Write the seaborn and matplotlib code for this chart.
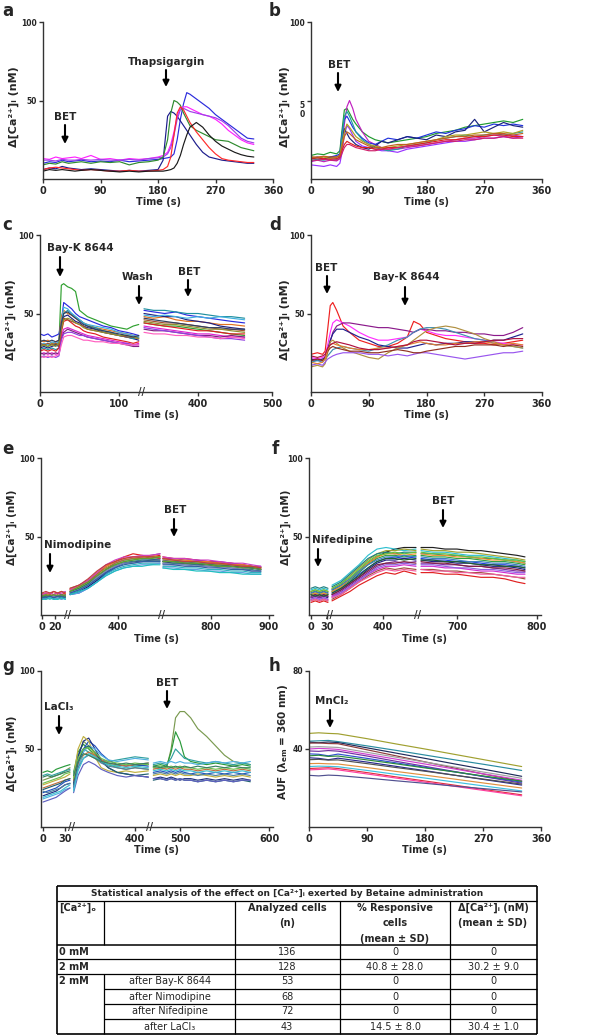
import numpy as np
import pandas as pd
import matplotlib
matplotlib.use('Agg')
import matplotlib.pyplot as plt
import seaborn as sns

W, H = 593, 1035

# ---------------- panel a (time in s, nM) ----------------
a_t = [0, 10, 20, 30, 40, 50, 60, 75, 90, 105, 120, 135, 150, 165, 180, 188, 195, 200, 205, 210,
       215, 220, 225, 230, 240, 250, 260, 270, 280, 290, 300, 310, 320, 330]
a_vals = [
    [10, 11, 10.5, 12, 11, 11.5, 12, 11, 11.5, 11, 12, 11, 11.5, 12, 12.5, 13, 13.5, 14, 16, 25, 38, 48, 55, 54, 51, 48, 45, 41, 38, 35, 32, 29, 26, 25.5],
    [6, 7, 6.5, 8, 7, 6.5, 6, 6.5, 6, 5.5, 5, 5.5, 5, 5.5, 6, 12, 40, 43, 42, 40, 37, 34, 31, 28, 22, 17, 14, 13, 12, 11.5, 11, 10.5, 10, 10],
    [13, 12.5, 14, 13, 13.5, 14, 13, 15, 12.5, 13, 12, 13, 12.5, 13, 14, 15, 17, 22, 30, 40, 45, 46, 46, 45, 43, 41, 40, 38, 35, 31, 28, 25, 23, 22],
    [12, 12, 11.5, 12.5, 12, 12, 12.5, 12, 12.5, 12, 12, 12.5, 12, 13, 13.5, 14, 16, 20, 28, 38, 44, 45, 44, 43, 42, 41, 40, 39, 37, 34, 30, 26, 24, 23],
    [9, 10, 9.5, 11, 10, 10.5, 11, 10, 11, 10.5, 11, 9, 10.5, 11, 12, 14, 25, 42, 50, 49, 47, 42, 38, 34, 31, 29, 27, 25, 24.5, 24, 22, 20, 19, 18],
    [6, 7, 7.5, 7, 6.5, 6, 5.5, 6, 5.5, 5, 5, 5.5, 5, 5, 5.5, 6, 8, 14, 28, 42, 46, 44, 40, 36, 30, 25, 20, 16, 13, 12, 11.5, 11, 10.5, 10.5],
    [5, 6, 5.5, 6, 5.5, 5, 5.5, 6, 5.5, 5, 4.5, 5, 4.5, 5, 5, 5, 5.5, 6, 7, 10, 15, 22, 28, 33, 36, 33, 28, 24, 21, 19, 17, 15.5, 14.5, 14],
]
a_colors = ['#2b2bdc', '#1c1c8c', '#ff22ff', '#a040e8', '#2e8b2e', '#ff2a2a', '#1a1a1a']

# ---------------- panel b ----------------
b_t = [0, 10, 20, 30, 40, 45, 48, 52, 56, 60, 65, 70, 80, 90, 100, 110, 120, 135, 150, 165,
       180, 195, 210, 225, 240, 255, 270, 285, 300, 315, 330]
b_vals = [
    [15, 16, 15.5, 17, 16, 18, 30, 44, 45, 42, 38, 35, 30, 27, 25, 24, 23, 24, 25, 26, 27, 29, 30, 31, 33, 34, 35, 36, 37, 36, 38],
    [11, 12, 11, 12, 11.5, 13, 20, 35, 46, 50, 45, 38, 30, 24, 22, 20, 19, 19, 20, 21, 22, 23, 24, 25, 26, 26, 27, 28, 27, 28, 27],
    [9, 8.5, 8, 9, 8, 10, 16, 28, 34, 32, 28, 24, 21, 20, 19, 18, 18, 17, 19, 20, 21, 22, 23, 24, 24, 25, 26, 26, 27, 26, 27],
    [13, 14, 13, 14, 15, 16, 28, 38, 40, 37, 33, 30, 26, 23, 22, 24, 26, 25, 27, 26, 28, 30, 29, 31, 32, 34, 33, 35, 34, 35, 34],
    [13, 13.5, 13, 14, 14, 15, 24, 32, 29, 26, 24, 22, 20, 19, 21, 24, 23, 25, 27, 26, 25, 28, 27, 30, 31, 38, 30, 33, 36, 34, 33],
    [12, 12.5, 12, 13, 12.5, 14, 26, 40, 43, 40, 35, 30, 25, 22, 20, 19, 18, 19, 21, 22, 23, 25, 26, 27, 28, 27, 28, 29, 28, 29, 30],
    [14, 13.5, 14, 13, 14, 15, 22, 30, 35, 33, 30, 27, 24, 22, 21, 20, 20, 21, 22, 23, 24, 25, 27, 28, 28, 29, 30, 29, 30, 29, 31],
    [13, 13.5, 13, 12.5, 13, 14, 18, 22, 24, 23, 22, 21, 20, 20, 19, 19, 20, 20, 21, 22, 23, 24, 25, 25, 26, 27, 27, 28, 28, 27, 27],
    [12, 12, 12.5, 12, 12, 13, 16, 20, 22, 22, 21, 20, 19, 18, 18, 19, 19, 20, 21, 21, 22, 23, 24, 24, 25, 25, 26, 26, 27, 26, 26],
    [14, 14, 14.5, 14, 14, 15, 20, 27, 30, 29, 27, 25, 23, 21, 20, 20, 21, 22, 22, 23, 24, 25, 26, 27, 27, 28, 28, 29, 29, 28, 29],
]
b_colors = ['#1f9a2f', '#c020c0', '#9933ff', '#2233dd', '#1a237e', '#20a0a0', '#b0a020', '#e02020', '#d0206a', '#c06020']

# ---------------- panel c (broken axis) ----------------
c_t1 = [0, 5, 10, 15, 20, 24, 27, 30, 35, 40, 45, 50, 55, 60, 70, 80, 90, 100, 110, 118, 125]
c_t2 = [327, 340, 355, 370, 385, 400, 415, 430, 445, 463]
c_s1 = [
    [29, 30, 29, 31, 30, 31, 68, 69, 67, 66, 64, 52, 50, 48, 46, 44, 42, 41, 40, 42, 43],
    [37, 36, 37, 35, 36, 37, 45, 57, 55, 53, 50, 48, 47, 46, 44, 42, 41, 39, 38, 37, 36],
    [33, 32, 33, 31, 32, 33, 48, 52, 50, 49, 47, 46, 44, 43, 41, 40, 39, 38, 37, 36, 35],
    [28, 29, 28, 29, 30, 29, 40, 48, 49, 47, 45, 44, 42, 41, 40, 38, 37, 36, 35, 34, 33],
    [27, 28, 27, 28, 27, 28, 42, 50, 52, 50, 48, 46, 44, 42, 41, 39, 38, 36, 35, 34, 35],
    [30, 31, 30, 32, 31, 32, 44, 54, 53, 50, 48, 46, 44, 43, 42, 41, 40, 38, 37, 36, 35],
    [24, 25, 24, 25, 24, 25, 36, 40, 41, 40, 39, 38, 37, 36, 35, 34, 33, 32, 31, 30, 31],
    [25, 24, 25, 24, 25, 24, 34, 38, 40, 39, 38, 37, 36, 35, 34, 33, 32, 31, 30, 29, 29],
    [26, 27, 26, 27, 26, 28, 38, 45, 46, 44, 42, 41, 39, 38, 37, 35, 34, 33, 32, 31, 32],
    [22, 23, 22, 23, 22, 23, 33, 37, 38, 38, 37, 36, 36, 35, 34, 33, 32, 31, 31, 30, 30],
    [31, 30, 31, 30, 31, 30, 42, 47, 46, 45, 44, 43, 42, 40, 39, 38, 37, 36, 35, 35, 34],
    [29, 30, 29, 30, 29, 31, 40, 46, 47, 46, 44, 43, 41, 40, 39, 38, 37, 36, 36, 35, 34],
    [32, 33, 32, 33, 32, 33, 44, 50, 51, 49, 47, 45, 43, 42, 40, 39, 38, 37, 36, 35, 36],
    [23, 22, 23, 22, 23, 24, 30, 35, 36, 36, 35, 34, 33, 33, 32, 32, 31, 31, 30, 30, 30],
]
c_s2 = [
    [44, 43, 42, 42, 41, 40, 39, 38, 37, 36],
    [52, 51, 50, 51, 49, 48, 47, 46, 45, 44],
    [48, 47, 48, 46, 45, 45, 44, 43, 43, 42],
    [50, 49, 48, 48, 46, 45, 44, 42, 41, 40],
    [53, 52, 52, 51, 50, 50, 49, 48, 48, 47],
    [49, 48, 49, 48, 47, 48, 47, 48, 47, 46],
    [42, 41, 40, 39, 38, 37, 37, 36, 35, 35],
    [40, 39, 39, 38, 37, 36, 36, 35, 36, 35],
    [44, 43, 42, 41, 40, 39, 39, 38, 37, 37],
    [41, 40, 39, 38, 37, 36, 35, 34, 34, 33],
    [46, 45, 44, 44, 43, 42, 41, 40, 40, 39],
    [45, 44, 43, 43, 42, 41, 40, 40, 39, 38],
    [47, 46, 45, 44, 43, 42, 41, 41, 40, 40],
    [38, 37, 37, 36, 36, 35, 35, 34, 35, 34],
]
c_colors = ['#2fa02f', '#2a2ae0', '#e07020', '#202080', '#2090a0', '#40b0e0', '#e020d0',
            '#802080', '#e02020', '#9040e0', '#a05030', '#909030', '#304060', '#ff60c0']

# ---------------- panel d ----------------
d_t = [0, 10, 18, 22, 26, 30, 34, 40, 50, 60, 75, 90, 105, 120, 135, 150, 160, 170, 180, 195,
       210, 225, 240, 255, 270, 285, 300, 315, 330]
d_vals = [
    [24, 25, 24, 26, 40, 55, 57, 52, 42, 38, 33, 31, 29, 29, 31, 35, 45, 43, 38, 36, 34, 33, 32, 31, 31, 30, 31, 32, 33],
    [22, 21, 22, 23, 30, 38, 44, 46, 44, 42, 38, 35, 33, 33, 34, 35, 38, 40, 39, 37, 36, 36, 35, 34, 33, 32, 31, 30, 30],
    [20, 21, 20, 22, 26, 32, 38, 42, 44, 44, 43, 42, 41, 41, 40, 39, 38, 40, 40, 39, 39, 38, 38, 37, 37, 36, 36, 38, 41],
    [21, 20, 21, 22, 27, 33, 37, 40, 40, 38, 35, 33, 30, 29, 28, 28, 29, 30, 31, 30, 31, 31, 32, 32, 32, 33, 33, 35, 37],
    [19, 20, 19, 21, 23, 25, 27, 28, 29, 28, 27, 26, 28, 30, 33, 35, 38, 40, 41, 41, 40, 38, 36, 34, 33, 31, 30, 29, 28],
    [16, 17, 16, 18, 25, 32, 33, 31, 28, 26, 24, 22, 21, 25, 28, 30, 33, 36, 39, 41, 42, 41, 39, 37, 34, 32, 30, 29, 28],
    [17, 18, 17, 19, 21, 22, 23, 24, 25, 25, 25, 24, 24, 23, 24, 23, 24, 25, 25, 24, 23, 22, 21, 22, 23, 24, 25, 25, 26],
    [20, 21, 20, 22, 26, 28, 29, 28, 27, 26, 26, 25, 25, 26, 27, 26, 25, 25, 26, 27, 28, 29, 29, 30, 30, 30, 29, 30, 29],
    [19, 18, 19, 21, 27, 30, 31, 30, 29, 28, 27, 27, 28, 28, 29, 30, 31, 32, 31, 30, 30, 31, 31, 32, 32, 31, 30, 31, 30],
    [23, 22, 23, 24, 28, 30, 31, 32, 31, 30, 28, 27, 27, 28, 29, 30, 32, 33, 33, 32, 31, 30, 31, 31, 32, 33, 33, 34, 34],
]
d_colors = ['#ee2020', '#ff30ff', '#8b1a8b', '#202090', '#4090b0', '#b09040', '#9955ee', '#903020', '#e08030', '#b01040']

# ---------------- panel e (broken axis, three pieces) ----------------
e_t1 = [0, 6, 12, 18, 24, 30, 36]
e_t2 = [320, 335, 350, 365, 380, 395, 410, 425, 440, 455, 470]
e_t3 = [717, 735, 755, 775, 795, 815, 835, 855, 870, 886]
e_s1 = [
    [13, 14, 13, 15, 14, 13, 14], [12, 13, 12, 13, 14, 13, 12], [11, 12, 11, 12, 11, 12, 13],
    [12, 11, 12, 10, 11, 12, 11], [14, 13, 14, 13, 14, 15, 14], [10, 11, 10, 11, 10, 11, 10],
    [13, 12, 13, 12, 13, 12, 13], [11, 12, 12, 11, 12, 11, 12], [13, 14, 14, 13, 14, 14, 15],
    [12, 12, 11, 12, 12, 11, 12], [11, 10, 11, 12, 11, 10, 11], [10, 11, 11, 10, 11, 10, 11],
    [14, 15, 14, 15, 14, 15, 14], [12, 13, 12, 13, 12, 13, 12], [11, 11, 12, 11, 12, 12, 11],
    [10, 10, 11, 10, 10, 11, 10],
]
e_s2 = [
    [16, 18, 21, 26, 31, 34, 37, 39, 38, 37, 38], [15, 17, 20, 25, 29, 33, 35, 36, 37, 38, 39],
    [13, 14, 17, 21, 26, 30, 33, 34, 35, 35, 36], [15, 17, 20, 24, 29, 32, 34, 35, 36, 36, 37],
    [16, 18, 22, 27, 31, 34, 36, 37, 37, 38, 37], [14, 15, 18, 22, 26, 29, 31, 32, 33, 33, 33],
    [17, 19, 22, 26, 30, 33, 35, 36, 36, 37, 37], [13, 15, 18, 22, 27, 31, 33, 34, 34, 35, 35],
    [16, 19, 22, 27, 32, 35, 37, 37, 38, 38, 39], [14, 16, 19, 23, 28, 31, 33, 34, 35, 35, 35],
    [14, 16, 19, 24, 28, 31, 33, 33, 34, 34, 34], [13, 14, 17, 21, 25, 28, 30, 31, 32, 32, 33],
    [17, 19, 23, 28, 32, 34, 36, 37, 37, 37, 36], [15, 18, 21, 25, 29, 32, 34, 35, 36, 36, 37],
    [14, 16, 19, 23, 27, 30, 32, 33, 34, 34, 34], [13, 15, 17, 21, 25, 28, 30, 31, 31, 32, 32],
]
e_s3 = [
    [37, 36, 36, 35, 34, 33, 33, 32, 31, 30], [36, 36, 35, 35, 34, 34, 33, 32, 31, 31],
    [35, 34, 34, 33, 33, 32, 31, 31, 30, 29], [34, 34, 33, 33, 32, 32, 31, 31, 30, 30],
    [36, 35, 35, 34, 34, 33, 32, 32, 31, 30], [31, 31, 30, 30, 29, 29, 28, 28, 27, 27],
    [35, 35, 34, 34, 33, 32, 32, 31, 31, 30], [34, 33, 33, 32, 32, 31, 31, 30, 30, 29],
    [37, 36, 36, 35, 35, 34, 33, 33, 32, 31], [33, 33, 32, 32, 31, 31, 30, 29, 29, 28],
    [33, 32, 32, 31, 31, 30, 30, 29, 28, 28], [30, 30, 29, 29, 28, 28, 27, 27, 26, 26],
    [36, 35, 34, 34, 33, 33, 32, 31, 31, 30], [34, 34, 33, 33, 32, 31, 31, 30, 30, 29],
    [32, 32, 31, 31, 30, 30, 29, 29, 28, 28], [30, 29, 29, 28, 28, 27, 27, 26, 26, 26],
]
e_colors = ['#e02020', '#9020a0', '#2050d0', '#20a040', '#f08020', '#30b0c0', '#a08030', '#1a1a80',
            '#d040c0', '#408080', '#8080c0', '#60a0e0', '#c04040', '#60a030', '#3060a0', '#20c0c0']

# ---------------- panel f (broken axis, three pieces) ----------------
f_t1 = [0, 8, 16, 24, 32]
f_t2 = [315, 330, 345, 360, 375, 390, 405, 420, 435, 455]
f_t3 = [655, 670, 685, 700, 715, 730, 745, 760, 775, 785]
f_s1 = [
    [14, 15, 14, 15, 14], [16, 17, 16, 17, 16], [15, 16, 15, 16, 15], [17, 18, 17, 18, 17],
    [13, 14, 13, 14, 13], [12, 13, 12, 13, 12], [11, 12, 11, 12, 11], [11, 12, 11, 12, 12],
    [10, 11, 10, 11, 10], [8, 9, 8, 9, 8], [9, 10, 9, 10, 9], [13, 14, 13, 14, 13],
    [14, 15, 14, 15, 14], [10, 11, 10, 11, 10], [12, 13, 12, 13, 12], [15, 16, 15, 16, 15],
    [9, 10, 9, 10, 9], [13, 12, 13, 12, 13],
]
f_s2 = [
    [16, 19, 23, 28, 33, 37, 40, 42, 43, 43], [19, 22, 27, 32, 38, 42, 43, 42, 41, 42],
    [17, 20, 25, 30, 35, 39, 41, 41, 42, 41], [18, 21, 26, 31, 36, 39, 40, 39, 40, 40],
    [15, 18, 22, 27, 32, 36, 38, 38, 37, 38], [14, 17, 21, 26, 30, 34, 36, 37, 36, 37],
    [13, 16, 20, 24, 29, 33, 35, 35, 36, 35], [12, 15, 19, 23, 27, 31, 33, 34, 33, 34],
    [12, 14, 18, 22, 26, 29, 31, 31, 32, 31], [9, 12, 15, 19, 22, 25, 27, 26, 28, 26],
    [10, 13, 17, 21, 25, 28, 30, 29, 30, 29], [15, 18, 23, 28, 33, 37, 39, 39, 38, 39],
    [16, 19, 23, 28, 32, 35, 37, 37, 38, 37], [11, 14, 18, 22, 26, 30, 32, 32, 33, 32],
    [13, 16, 20, 24, 28, 32, 33, 33, 34, 33], [17, 20, 24, 29, 34, 38, 39, 40, 39, 40],
    [11, 13, 17, 21, 24, 27, 29, 28, 29, 28], [14, 17, 21, 25, 30, 34, 36, 36, 35, 36],
]
f_s3 = [
    [43, 43, 42, 42, 41, 41, 40, 39, 38, 37], [41, 40, 40, 39, 38, 38, 37, 36, 35, 34],
    [42, 41, 41, 40, 40, 39, 38, 37, 36, 35], [39, 39, 38, 38, 37, 36, 36, 35, 34, 33],
    [38, 37, 37, 36, 36, 35, 34, 34, 33, 32], [36, 35, 35, 34, 34, 33, 32, 32, 31, 30],
    [35, 34, 34, 33, 33, 32, 31, 31, 30, 29], [33, 33, 32, 32, 31, 31, 30, 29, 28, 28],
    [31, 31, 30, 30, 29, 28, 28, 27, 26, 26], [27, 27, 26, 26, 25, 24, 24, 23, 21, 20],
    [29, 29, 28, 28, 27, 27, 26, 25, 24, 23], [39, 38, 38, 37, 37, 36, 35, 35, 34, 33],
    [37, 36, 36, 35, 34, 34, 33, 33, 32, 31], [32, 32, 31, 30, 30, 29, 29, 28, 27, 27],
    [34, 33, 33, 32, 31, 31, 30, 30, 29, 28], [40, 39, 39, 38, 37, 37, 36, 35, 35, 34],
    [29, 28, 28, 27, 27, 26, 26, 25, 24, 24], [35, 35, 34, 34, 33, 32, 32, 31, 31, 30],
]
f_colors = ['#202020', '#30c0d0', '#a0a030', '#208080', '#30a040', '#2040e0', '#202080', '#8030a0', '#d030d0',
            '#e02020', '#a05040', '#f09030', '#4080c0', '#9060e0', '#802040', '#60c040', '#f060a0', '#206030']

# ---------------- panel g (broken axis, three pieces) ----------------
g_t1 = [0, 6, 12, 18, 24, 30, 37]
g_t2 = [331, 336, 342, 348, 355, 362, 370, 380, 390, 400, 415]
g_t3 = [470, 478, 485, 490, 495, 500, 505, 512, 520, 530, 540, 550, 560, 570, 579]
g_s1 = [
    [30, 31, 32, 33, 34, 36, 38], [35, 36, 35, 37, 38, 39, 40], [33, 34, 33, 34, 35, 36, 37],
    [22, 23, 24, 25, 27, 29, 30], [20, 21, 22, 23, 25, 27, 28], [27, 28, 29, 30, 31, 32, 34],
    [25, 26, 27, 28, 29, 30, 31], [18, 19, 20, 21, 22, 24, 25], [24, 25, 26, 27, 28, 30, 31],
    [28, 29, 30, 31, 32, 34, 35], [23, 22, 23, 24, 25, 27, 28], [16, 17, 18, 19, 21, 23, 25],
    [19, 20, 21, 22, 23, 25, 27], [32, 33, 32, 33, 34, 35, 36],
]
g_s2 = [
    [30, 45, 55, 52, 47, 43, 40, 38, 37, 38, 37], [35, 48, 53, 50, 46, 42, 40, 39, 40, 39, 40],
    [34, 46, 50, 48, 45, 43, 42, 43, 44, 45, 44], [25, 40, 50, 55, 52, 47, 43, 40, 39, 40, 39],
    [28, 45, 55, 57, 50, 43, 38, 35, 34, 33, 32], [32, 50, 58, 55, 45, 38, 36, 35, 36, 35, 36],
    [30, 40, 46, 48, 46, 43, 41, 40, 39, 40, 41], [24, 38, 48, 52, 50, 46, 43, 42, 43, 44, 43],
    [27, 42, 50, 52, 48, 42, 38, 35, 34, 33, 34], [31, 44, 50, 51, 48, 44, 42, 41, 40, 41, 40],
    [26, 38, 44, 46, 44, 41, 39, 38, 37, 38, 37], [22, 33, 40, 42, 40, 37, 35, 33, 32, 33, 32],
    [23, 36, 44, 47, 45, 42, 40, 39, 38, 39, 38], [33, 42, 47, 46, 44, 42, 41, 40, 41, 40, 41],
]
g_s3 = [
    [38, 37, 38, 50, 70, 74, 74, 70, 63, 58, 52, 46, 42, 41, 40],
    [39, 40, 39, 48, 61, 55, 45, 42, 41, 40, 41, 40, 39, 40, 39],
    [40, 41, 40, 44, 50, 47, 44, 43, 42, 41, 42, 41, 40, 41, 40],
    [35, 36, 35, 36, 35, 36, 35, 34, 35, 34, 35, 34, 35, 34, 35],
    [31, 32, 31, 32, 31, 30, 31, 31, 30, 31, 30, 31, 30, 31, 30],
    [33, 34, 33, 34, 33, 34, 33, 33, 34, 33, 32, 33, 32, 33, 32],
    [37, 38, 37, 38, 37, 38, 37, 37, 36, 37, 36, 37, 36, 37, 36],
    [41, 42, 41, 42, 41, 42, 41, 41, 40, 41, 42, 41, 42, 41, 42],
    [30, 31, 30, 31, 30, 31, 30, 30, 29, 30, 29, 30, 29, 30, 29],
    [38, 39, 38, 39, 38, 39, 38, 38, 37, 38, 37, 38, 37, 38, 37],
    [34, 35, 34, 35, 34, 35, 34, 34, 33, 34, 33, 34, 33, 34, 33],
    [31, 31, 30, 31, 30, 31, 30, 30, 29, 30, 29, 30, 29, 30, 30],
    [36, 37, 36, 37, 36, 37, 36, 36, 35, 36, 35, 36, 35, 36, 35],
    [39, 38, 39, 38, 39, 38, 39, 38, 39, 38, 39, 38, 39, 38, 38],
]
g_colors = ['#7a9a50', '#2a9a3a', '#30a0a0', '#2050c0', '#203080', '#c0b040', '#c07040',
            '#50b0e0', '#206070', '#70c050', '#5080a0', '#6060c0', '#40c0d0', '#3a8060']

# ---------------- panel h (AUF) ----------------
h_t = [0, 15, 30, 45, 90, 135, 180, 225, 270, 330]
h_vals = [
    [48, 48.3, 48, 47.8, 45.3, 42.6, 40, 37.3, 34.6, 31],
    [44, 44.2, 44.4, 43.8, 41.6, 39.3, 36.9, 34.5, 32.2, 29],
    [43.5, 43.2, 43.6, 43.3, 40.6, 37.9, 35.2, 32.4, 29.7, 26],
    [43, 43.1, 42.8, 42.7, 39.6, 36.5, 33.4, 30.3, 27.2, 23.5],
    [41, 41.2, 41, 40.8, 38.3, 35.8, 33.3, 30.8, 28.2, 25],
    [40, 40.3, 40.1, 39.8, 37.3, 34.8, 32.3, 29.8, 27.3, 24],
    [39, 38.8, 39.2, 38.9, 36.4, 33.7, 31.1, 28.5, 25.9, 22.5],
    [37.5, 37.3, 36.5, 37.4, 35.2, 32.9, 30.6, 28.3, 26, 23],
    [36.5, 36.8, 36.2, 36.4, 34.4, 32.4, 30.3, 28.3, 26.2, 23.5],
    [35.5, 35.2, 34.5, 35.3, 33.3, 31.1, 28.9, 26.6, 24.4, 21.5],
    [34.5, 34.7, 34.3, 34.4, 32.5, 30.5, 28.6, 26.6, 24.6, 22],
    [32.5, 32.6, 32.4, 32.3, 30.5, 28.5, 26.6, 24.6, 22.6, 20],
    [31, 31.2, 31.1, 30.9, 29, 27, 25.1, 23.1, 21.1, 18.5],
    [30, 30.2, 30.4, 30, 27.9, 25.7, 23.6, 21.5, 19.3, 16.5],
    [29.3, 29.5, 29.8, 29.3, 27.2, 25.1, 23, 20.9, 18.8, 16],
    [26.5, 26.2, 26.6, 26.4, 25.1, 23.7, 22.4, 21, 19.7, 18],
]
h_colors = ['#a0a030', '#2a8ca0', '#1e2a5a', '#8b3a3a', '#a0a0a0', '#d040d0', '#7030a0', '#3050d0',
            '#2a8a3a', '#2a2a90', '#505050', '#e09040', '#40c0e0', '#e03040', '#ff40a0', '#505090']

# ---------------- table ----------------
tab_title = 'Statistical analysis of the effect on [Ca\u00b2\u207a]\u1d62 exerted by Betaine administration'
tab_ca = ['0 mM', '2 mM', '2 mM', '', '', '']
tab_cond = ['', '', 'after Bay-K 8644', 'after Nimodipine', 'after Nifedipine', 'after LaCl\u2083']
tab_n = ['136', '128', '53', '68', '72', '43']
tab_resp = ['0', '40.8 \u00b1 28.0', '0', '0', '0', '14.5 \u00b1 8.0']
tab_delta = ['0', '30.2 \u00b1 9.0', '0', '0', '0', '30.4 \u00b1 1.0']

sns.set_style('ticks')
plt.rcParams['font.family'] = ['DejaVu Sans', 'Noto Sans']
plt.rcParams['font.weight'] = 'bold'
plt.rcParams['mathtext.default'] = 'regular'

fig = plt.figure(figsize=(W / 100, H / 100), dpi=100)


def box(l, t, r, b):
    return fig.add_axes([l / W, 1 - b / H, (r - l) / W, (b - t) / H])


def seg(t0, p0, sc):
    return lambda t: p0 + (t - t0) * sc


def same(t):
    return t


def traces(ax, pieces, colors):
    rows = []
    for s, (tt, vals, m) in enumerate(pieces):
        for k, v in enumerate(vals):
            for t, y in zip(tt, v):
                rows.append((m(t), y, k, s))
    df = pd.DataFrame(rows, columns=['x', 'y', 'cell', 'seg'])
    sns.lineplot(data=df, x='x', y='y', hue='cell', units='seg', estimator=None,
                 palette=colors, legend=False, linewidth=0.85, ax=ax)


def frame(ax, xlim, xt, xl, ylim, yt, yl):
    ax.set_xlim(*xlim)
    ax.set_ylim(*ylim)
    ax.set_xticks(xt)
    ax.set_xticklabels(xl)
    ax.set_yticks(yt)
    ax.set_yticklabels(yl)
    ax.set_xlabel('')
    ax.set_ylabel('')
    sns.despine(ax=ax)
    for s in ('left', 'bottom'):
        ax.spines[s].set_color('#333333')
        ax.spines[s].set_linewidth(1)
    ax.tick_params(axis='x', length=3, width=1, labelsize=7, pad=2, color='#333333')
    ax.tick_params(axis='y', length=3, width=1, labelsize=5.5, pad=1.5, color='#333333')
    ax.patch.set_alpha(0)


# a
ax = box(43, 22, 273, 179)
traces(ax, [(a_t, a_vals, same)], a_colors)
frame(ax, (0, 360), [0, 90, 180, 270, 360], ['0', '90', '180', '270', '360'], (0, 100), [50, 100], ['50', '100'])

# b
ax = box(311, 22, 542, 179)
traces(ax, [(b_t, b_vals, same)], b_colors)
frame(ax, (0, 360), [0, 90, 180, 270, 360], ['0', '90', '180', '270', '360'], (0, 100), [50, 100], ['5\n0', '100'])
for lab in ax.get_yticklabels():
    if lab.get_text() == '5\n0':
        lab.set_va('top')
        lab.set_linespacing(1.1)

# c
c1, c2 = seg(0, 40, 0.79), seg(400, 198, 0.74)
ax = box(40, 235, 272, 392)
traces(ax, [(c_t1, c_s1, c1), (c_t2, c_s2, c2)], c_colors)
frame(ax, (40, 272), [c1(0), c1(100), c2(400), c2(500)], ['0', '100', '400', '500'], (0, 100), [50, 100], ['50', '100'])

# d
ax = box(311, 235, 542, 392)
traces(ax, [(d_t, d_vals, same)], d_colors)
frame(ax, (0, 360), [0, 90, 180, 270, 360], ['0', '90', '180', '270', '360'], (0, 100), [50, 100], ['50', '100'])

# e
e1, e2, e3 = seg(0, 42, 0.65), seg(400, 118, 0.6), seg(800, 211, 0.58)
ax = box(41, 458, 273, 615)
traces(ax, [(e_t1, e_s1, e1), (e_t2, e_s2, e2), (e_t3, e_s3, e3)], e_colors)
frame(ax, (41, 273), [e1(0), e1(20), e2(400), e3(800), e3(900)], ['0', '20', '400', '800', '900'],
      (0, 100), [50, 100], ['50', '100'])

# f
f1, f2, f3 = seg(0, 311, 0.53), seg(400, 383, 0.6), seg(700, 457, 0.8)
ax = box(309, 458, 541, 615)
traces(ax, [(f_t1, f_s1, f1), (f_t2, f_s2, f2), (f_t3, f_s3, f3)], f_colors)
frame(ax, (309, 541), [f1(0), f1(30), f2(400), f3(700), f3(800)], ['0', '30', '400', '700', '800'],
      (0, 100), [50, 100], ['50', '100'])

# g
g1, g2, g3 = seg(0, 43, 0.73), seg(400, 135, 0.89), seg(500, 180, 0.89)
ax = box(41, 671, 273, 827)
traces(ax, [(g_t1, g_s1, g1), (g_t2, g_s2, g2), (g_t3, g_s3, g3)], g_colors)
frame(ax, (41, 273), [g1(0), g1(30), g2(400), g3(500), g3(600)], ['0', '30', '400', '500', '600'],
      (0, 100), [50, 100], ['50', '100'])

# h
ax = box(309, 671, 541, 827)
traces(ax, [(h_t, h_vals, same)], h_colors)
frame(ax, (0, 360), [0, 90, 180, 270, 360], ['0', '90', '180', '270', '360'], (0, 80), [40, 80], ['40', '80'])

# overlay in image pixels (origin top-left)
ov = fig.add_axes([0, 0, 1, 1])
ov.set_xlim(0, W)
ov.set_ylim(H, 0)
ov.axis('off')

for letter, x, y in [('a', 2, 11), ('b', 269, 11), ('c', 2, 225), ('d', 269, 225),
                     ('e', 2, 449), ('f', 272, 449), ('g', 2, 666), ('h', 269, 666)]:
    ov.text(x, y, letter, fontsize=12, ha='left', va='center')

ca_lab = '\u0394[Ca\u00b2\u207a]\u1d62 (nM)'
for x, y, fs in [(14, 107, 8), (285, 107, 8), (11, 320, 8), (285, 320, 8),
                 (12, 527, 7.5), (286, 527, 7.5), (12, 753, 7.5)]:
    ov.text(x, y, ca_lab, rotation=90, fontsize=fs, ha='center', va='center')
ov.text(283, 742, r'AUF ($\lambda_{em}$ = 360 nm)', rotation=90, fontsize=7.5, ha='center', va='center')

for x, y in [(158, 202), (426, 202), (156, 415), (426, 415), (157, 639), (425, 639), (157, 850), (425, 850)]:
    ov.text(x, y, 'Time (s)', fontsize=7, ha='center', va='center')

for x, y in [(142, 392), (68, 615), (162, 615), (330, 615), (418, 615), (72, 827), (150, 827)]:
    ov.text(x, y, '//', fontsize=7, ha='center', va='center', color='#333333')

notes = [
    ('BET', 65, 117, 65, 125, 144), ('Thapsigargin', 166, 62, 166, 70, 87),
    ('BET', 339, 65, 338, 73, 92),
    ('Bay-K 8644', 80, 248, 60, 257, 277), ('Wash', 138, 277, 139, 286, 305), ('BET', 189, 272, 188, 280, 297),
    ('BET', 326, 268, 327, 276, 294), ('Bay-K 8644', 406, 277, 405, 287, 306),
    ('Nimodipine', 78, 545, 50, 554, 573), ('BET', 175, 510, 174, 519, 537),
    ('Nifedipine', 342, 540, 318, 549, 567), ('BET', 443, 501, 443, 510, 528),
    ('LaCl\u2083', 59, 707, 59, 716, 735), ('BET', 167, 683, 167, 691, 709),
    ('MnCl\u2082', 332, 701, 330, 710, 728),
]
for txt, tx, ty, ax_x, y0, y1 in notes:
    ov.text(tx, ty, txt, fontsize=7.5, ha='center', va='center')
    ov.annotate('', xy=(ax_x, y1), xytext=(ax_x, y0),
                arrowprops=dict(arrowstyle='-|>', color='k', lw=1.5, mutation_scale=9, shrinkA=0, shrinkB=0))

# table
L, R, T, B = 57, 537, 886, 1034
cols = [104, 235, 340, 450]
rows_y = [945, 959, 974, 989, 1004, 1019, 1034]
lk = dict(color='k', solid_capstyle='butt')
for y in [T, B]:
    ov.plot([L, R], [y, y], lw=1.2, **lk)
for x in [L, R]:
    ov.plot([x, x], [T, B], lw=1.2, **lk)
ov.plot([L, R], [901, 901], lw=0.9, **lk)
ov.plot([L, R], [945, 945], lw=1.1, **lk)
ov.plot([L, R], [959, 959], lw=0.9, **lk)
ov.plot([L, R], [974, 974], lw=0.9, **lk)
for y in [989, 1004, 1019]:
    ov.plot([cols[0], R], [y, y], lw=0.9, **lk)
ov.plot([cols[0], cols[0]], [901, 945], lw=0.9, **lk)
ov.plot([cols[0], cols[0]], [974, B], lw=0.9, **lk)
for x in cols[1:]:
    ov.plot([x, x], [901, B], lw=0.9, **lk)

ov.text(287, 894, tab_title, fontsize=6.5, ha='center', va='center')
ov.text(59, 908, '[Ca\u00b2\u207a]\u2092', fontsize=7, ha='left', va='center')
ov.text(287, 908, 'Analyzed cells', fontsize=7, ha='center', va='center')
ov.text(287, 923, '(n)', fontsize=7, ha='center', va='center')
ov.text(395, 908, '% Responsive', fontsize=7, ha='center', va='center')
ov.text(395, 923, 'cells', fontsize=7, ha='center', va='center')
ov.text(395, 939, '(mean \u00b1 SD)', fontsize=7, ha='center', va='center')
ov.text(493, 908, '\u0394[Ca\u00b2\u207a]\u1d62 (nM)', fontsize=7, ha='center', va='center')
ov.text(493, 923, '(mean \u00b1 SD)', fontsize=7, ha='center', va='center')

for i in range(len(tab_n)):
    yc = (rows_y[i] + rows_y[i + 1]) / 2
    ov.text(59, yc, tab_ca[i], fontsize=7, ha='left', va='center')
    ov.text(170, yc, tab_cond[i], fontsize=7, fontweight='normal', ha='center', va='center')
    ov.text(287, yc, tab_n[i], fontsize=7, fontweight='normal', ha='center', va='center')
    ov.text(395, yc, tab_resp[i], fontsize=7, fontweight='normal', ha='center', va='center')
    ov.text(493, yc, tab_delta[i], fontsize=7, fontweight='normal', ha='center', va='center')

fig.savefig('out.png', dpi=100)
